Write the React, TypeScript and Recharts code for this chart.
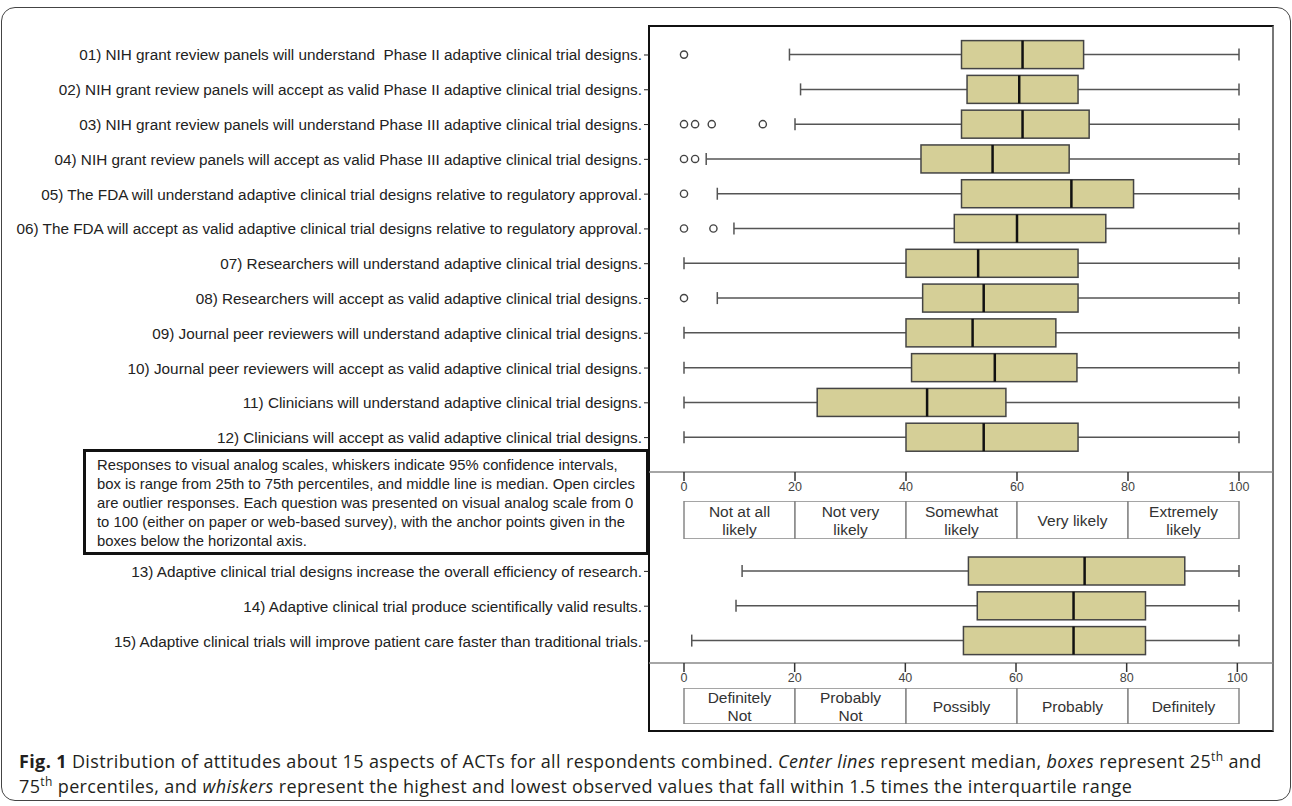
import { BarChart, Bar, XAxis, YAxis, LabelList } from "recharts";

const questionsTop = [
  "01) NIH grant review panels will understand  Phase II adaptive clinical trial designs.",
  "02) NIH grant review panels will accept as valid Phase II adaptive clinical trial designs.",
  "03) NIH grant review panels will understand Phase III adaptive clinical trial designs.",
  "04) NIH grant review panels will accept as valid Phase III adaptive clinical trial designs.",
  "05) The FDA will understand adaptive clinical trial designs relative to regulatory approval.",
  "06) The FDA will accept as valid adaptive clinical trial designs relative to regulatory approval.",
  "07) Researchers will understand adaptive clinical trial designs.",
  "08) Researchers will accept as valid adaptive clinical trial designs.",
  "09) Journal peer reviewers will understand adaptive clinical trial designs.",
  "10) Journal peer reviewers will accept as valid adaptive clinical trial designs.",
  "11) Clinicians will understand adaptive clinical trial designs.",
  "12) Clinicians will accept as valid adaptive clinical trial designs.",
];
const lowTop = [19, 21, 20, 4, 6, 9, 0, 6, 0, 0, 0, 0];
const q1Top = [50, 51, 50, 42.7, 50, 48.7, 40, 43, 40, 41, 24, 40];
const medianTop = [61, 60.4, 61, 55.6, 69.8, 60, 53, 54, 52, 56, 43.8, 54];
const q3Top = [72, 71, 73, 69.4, 81, 76, 71, 71, 67, 70.8, 58, 71];
const highTop = [100, 100, 100, 100, 100, 100, 100, 100, 100, 100, 100, 100];
const outliersTop = [[0], [], [0, 2, 5, 14.2], [0, 2], [0], [0, 5.3], [], [0], [], [], [], []];

const questionsBottom = [
  "13) Adaptive clinical trial designs increase the overall efficiency of research.",
  "14) Adaptive clinical trial produce scientifically valid results.",
  "15) Adaptive clinical trials will improve patient care faster than traditional trials.",
];
const lowBottom = [10.5, 9.4, 1.4];
const q1Bottom = [51.4, 53, 50.5];
const medianBottom = [72.4, 70.4, 70.4];
const q3Bottom = [90.5, 83.4, 83.4];
const highBottom = [100.3, 100.3, 100.3];
const outliersBottom = [[], [], []];

const scaleTicks = [0, 20, 40, 60, 80, 100];
const likelihoodAnchors = ["Not at all\nlikely", "Not very\nlikely", "Somewhat\nlikely", "Very likely", "Extremely\nlikely"];
const certaintyAnchors = ["Definitely\nNot", "Probably\nNot", "Possibly", "Probably", "Definitely"];

const noteLines = [
  "Responses to visual analog scales, whiskers indicate 95% confidence intervals,",
  "box is range from 25th to 75th percentiles, and middle line is median. Open circles",
  "are outlier responses. Each question was presented on visual analog scale from 0",
  "to 100 (either on paper or web-based survey), with the anchor points given in the",
  "boxes below the horizontal axis.",
];

const SANS = "'Liberation Sans', Arial, sans-serif";
const BOX_FILL = "#d5cf97";

function buildRows(q: string[], lo: number[], a: number[], m: number[], b: number[], hi: number[], out: number[][]) {
  return q.map((label, i) => ({ label, low: lo[i], q1: a[i], med: m[i], q3: b[i], high: hi[i], outliers: out[i] }));
}

const topRows = buildRows(questionsTop, lowTop, q1Top, medianTop, q3Top, highTop, outliersTop);
const bottomRows = buildRows(questionsBottom, lowBottom, q1Bottom, medianBottom, q3Bottom, highBottom, outliersBottom);

function BoxShape(props: any) {
  const { x, y, width, height, payload } = props;
  const { low, q1, med, q3, high, outliers } = payload;
  const px = (v: number) => x + ((v - low) / (high - low)) * width;
  const cy = y + height / 2;
  const cap = 6;
  return (
    <g>
      <line x1={px(low)} x2={px(q1)} y1={cy} y2={cy} stroke="#555" strokeWidth={1.5} />
      <line x1={px(q3)} x2={px(high)} y1={cy} y2={cy} stroke="#555" strokeWidth={1.5} />
      <line x1={px(low)} x2={px(low)} y1={cy - cap} y2={cy + cap} stroke="#555" strokeWidth={1.5} />
      <line x1={px(high)} x2={px(high)} y1={cy - cap} y2={cy + cap} stroke="#555" strokeWidth={1.5} />
      <rect x={px(q1)} y={y} width={px(q3) - px(q1)} height={height} fill={BOX_FILL} stroke="#444" strokeWidth={1.5} />
      <line x1={px(med)} x2={px(med)} y1={y} y2={y + height} stroke="#111" strokeWidth={2.5} />
      {outliers.map((o: number, k: number) => (
        <circle key={k} cx={px(o)} cy={cy} r={3.6} fill="none" stroke="#444" strokeWidth={1.4} />
      ))}
    </g>
  );
}

function QuestionTick(props: any) {
  const { x, y, payload } = props;
  return (
    <text x={x} y={y} textAnchor="end" dominantBaseline="central" fontFamily={SANS} fontSize={15.3} fill="#222" style={{ whiteSpace: "pre" }}>
      {payload.value}
    </text>
  );
}

function BoxPanel({ rows, height, padTop, padBottom }: { rows: any[]; height: number; padTop: number; padBottom: number }) {
  return (
    <BarChart width={1280} height={height} data={rows} layout="vertical" margin={{ top: 0, right: 7, bottom: 0, left: 0 }}>
      <XAxis
        type="number"
        domain={[0, 100]}
        ticks={scaleTicks}
        padding={{ left: 35, right: 34 }}
        height={26}
        tickSize={9}
        tickMargin={1}
        axisLine={{ stroke: "#888", strokeWidth: 1.5 }}
        tickLine={{ stroke: "#333", strokeWidth: 1.5 }}
        tick={{ fontFamily: SANS, fontSize: 12.5, fill: "#444" }}
      />
      <YAxis
        type="category"
        dataKey="label"
        width={649}
        axisLine={false}
        tickSize={5}
        tickMargin={2}
        tickLine={{ stroke: "#222" }}
        padding={{ top: padTop, bottom: padBottom }}
        tick={<QuestionTick />}
        interval={0}
      />
      <Bar dataKey={(d: any) => [d.low, d.high]} barSize={28} shape={<BoxShape />} isAnimationActive={false} />
    </BarChart>
  );
}

function AnchorRow({ labels, height }: { labels: string[]; height: number }) {
  const row: any = { name: "anchors" };
  labels.forEach((_, i) => (row["s" + i] = 20));
  return (
    <BarChart width={1280} height={height} data={[row]} layout="vertical" barCategoryGap={0} margin={{ top: 0, right: 7, bottom: 0, left: 649 }}>
      <XAxis type="number" domain={[0, 100]} padding={{ left: 35, right: 34 }} hide />
      <YAxis type="category" dataKey="name" hide />
      {labels.map((label, i) => (
        <Bar key={i} dataKey={"s" + i} stackId="a" fill="#fff" stroke="#888" strokeWidth={1.5} isAnimationActive={false}>
          <LabelList
            dataKey={"s" + i}
            content={(p: any) => {
              const lines = label.split("\n");
              const cx = p.x + p.width / 2;
              const cy = p.y + p.height / 2;
              const lh = 18;
              return (
                <text textAnchor="middle" fontFamily={SANS} fontSize={15.5} fill="#333">
                  {lines.map((t, k) => (
                    <tspan key={k} x={cx} y={cy + (k - (lines.length - 1) / 2) * lh} dominantBaseline="central">
                      {t}
                    </tspan>
                  ))}
                </text>
              );
            }}
          />
        </Bar>
      ))}
    </BarChart>
  );
}

const sup = { fontSize: 12, lineHeight: 0 } as const;

export default function App() {
  return (
    <div style={{ position: "absolute", left: 0, top: 0, width: 1292, height: 806, background: "#fff", overflow: "hidden" }}>
      <div style={{ position: "absolute", left: 1, top: 7, width: 1290, height: 794, boxSizing: "border-box", border: "1.5px solid #444", borderRadius: 14 }} />
      <div style={{ position: "absolute", left: 648, top: 25, width: 626, height: 707, boxSizing: "border-box", border: "2.5px solid #111", borderRightColor: "#777" }} />

      <div style={{ position: "absolute", left: 0, top: 26 }}>
        <BoxPanel rows={topRows} height={472} padTop={11.6} padBottom={17} />
      </div>
      <div style={{ position: "absolute", left: 0, top: 501 }}>
        <AnchorRow labels={likelihoodAnchors} height={38} />
      </div>

      <div
        style={{
          position: "absolute",
          left: 83,
          top: 449,
          width: 566,
          height: 106,
          boxSizing: "border-box",
          border: "3px solid #111",
          background: "#fff",
          padding: "4px 0 0 11px",
          fontFamily: SANS,
          fontSize: 14.8,
          lineHeight: "19px",
          color: "#222",
        }}
      >
        {noteLines.map((t, i) => (
          <div key={i} style={{ whiteSpace: "nowrap" }}>{t}</div>
        ))}
      </div>

      <div style={{ position: "absolute", left: 0, top: 554 }}>
        <BoxPanel rows={bottomRows} height={135} padTop={0} padBottom={4.6} />
      </div>
      <div style={{ position: "absolute", left: 0, top: 688 }}>
        <AnchorRow labels={certaintyAnchors} height={36} />
      </div>

      <div
        style={{
          position: "absolute",
          left: 19,
          top: 749,
          fontFamily: "'Open Sans', sans-serif",
          fontSize: 18,
          letterSpacing: 0.37,
          lineHeight: "25px",
          color: "#231f20",
          whiteSpace: "nowrap",
        }}
      >
        <div>
          <b>Fig. 1</b> Distribution of attitudes about 15 aspects of ACTs for all respondents combined. <i>Center lines</i> represent median, <i>boxes</i> represent 25
          <sup style={sup}>th</sup> and
        </div>
        <div>
          75<sup style={sup}>th</sup> percentiles, and <i>whiskers</i> represent the highest and lowest observed values that fall within 1.5 times the interquartile range
        </div>
      </div>
    </div>
  );
}
